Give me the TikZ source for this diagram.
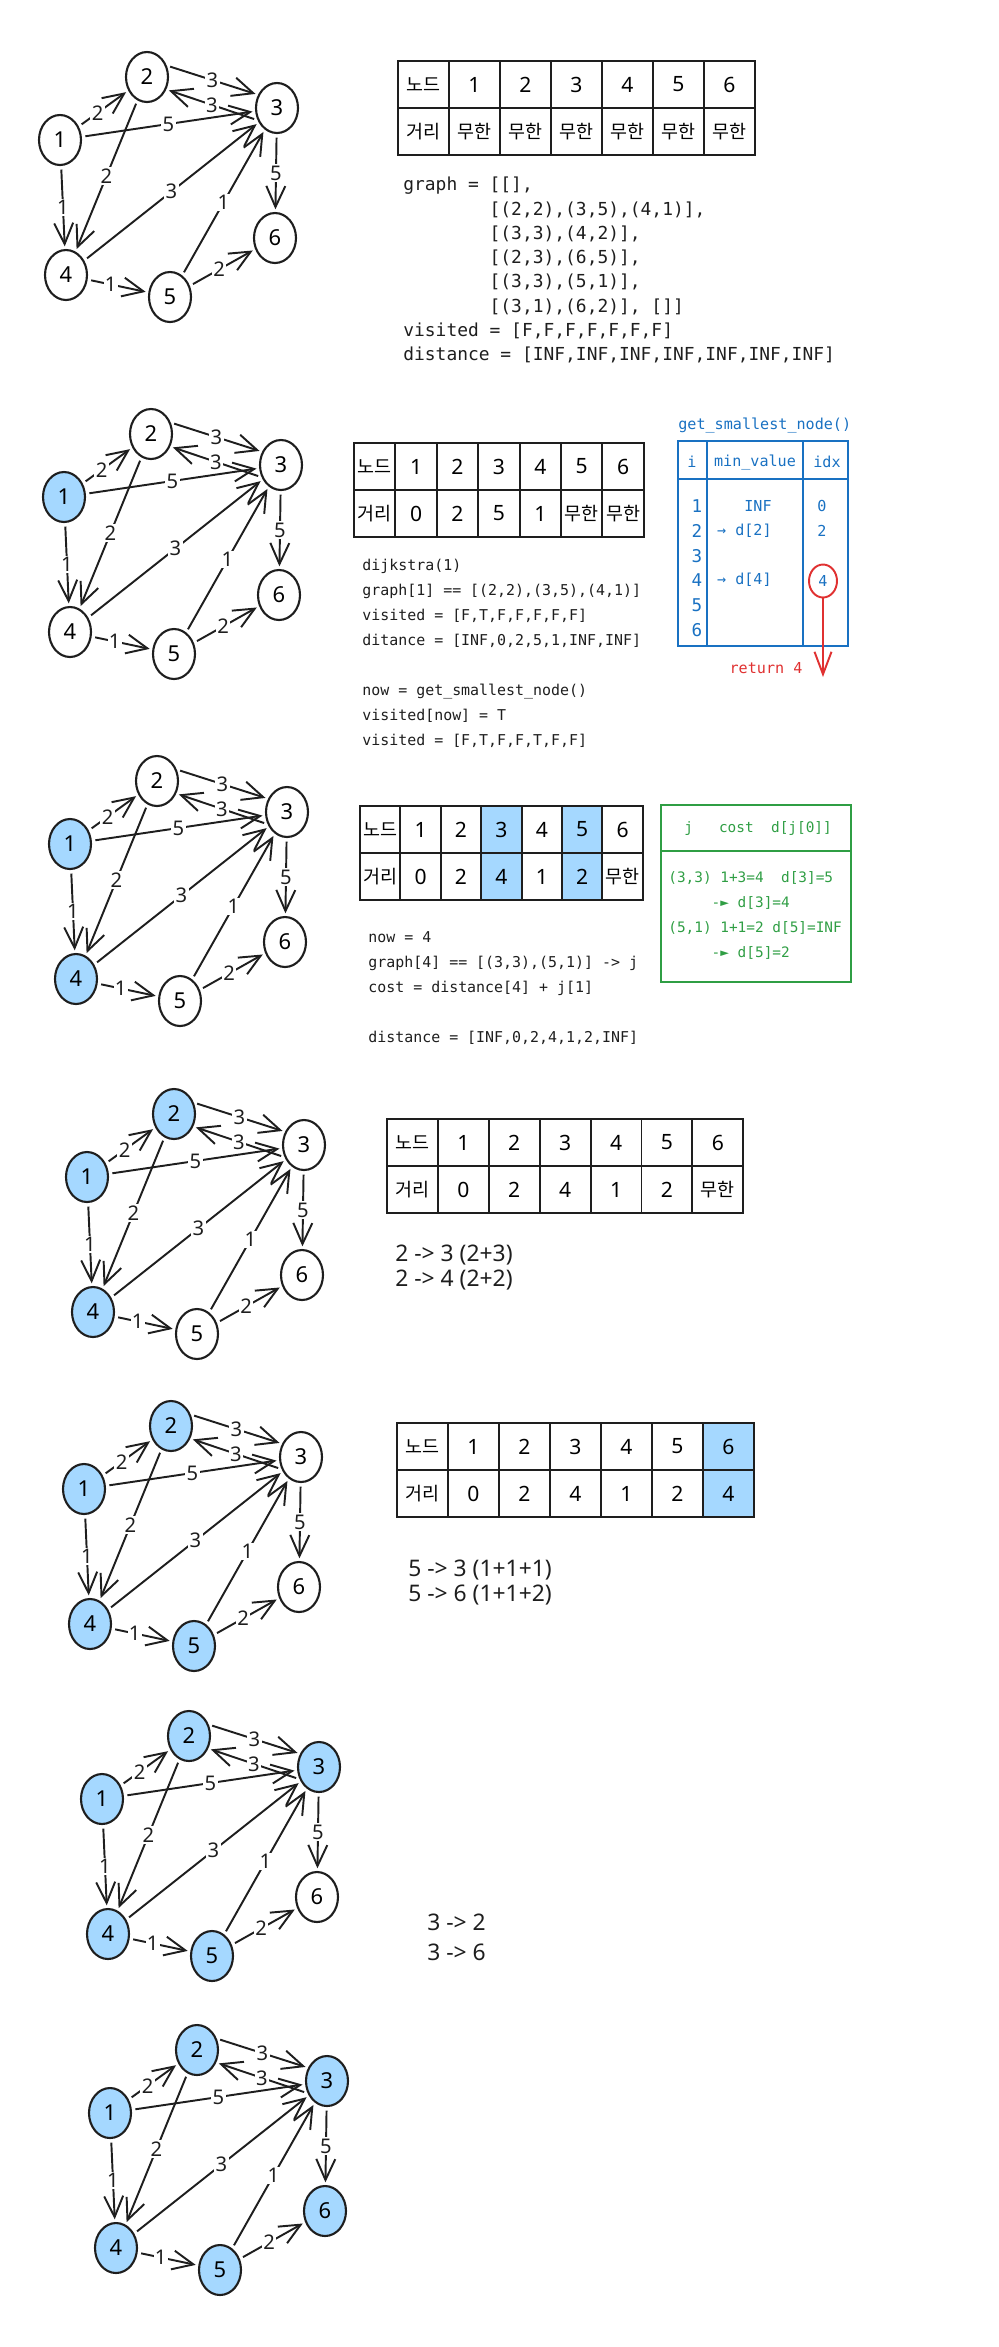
\documentclass[tikz,border=0pt]{standalone}
\usepackage{fontspec}
\setmainfont{Noto Sans}
\setmonofont{DejaVu Sans Mono}
\newfontfamily\krfont{Noto Sans CJK KR}
\newcommand\ko[1]{{\krfont\fontsize{10.5}{12}\selectfont #1}}
\usetikzlibrary{arrows.meta,shapes.geometric}
\definecolor{dkink}{HTML}{1E1E1E}
\definecolor{visfill}{HTML}{A5D8FF}
\definecolor{dkblue}{HTML}{1971C2}
\definecolor{dkgreen}{HTML}{2F9E44}
\definecolor{dkred}{HTML}{E03131}
\tikzset{
  vtx/.style={ellipse, draw=dkink, line width=1.2pt, minimum width=8.4mm, minimum height=10mm, inner sep=0pt, font=\fontsize{12.5}{14}\selectfont},
  warr/.style={-{Straight Barb[length=4.2mm, width=3.8mm]}, line width=1.1pt, color=dkink, shorten >=1.5pt, shorten <=2pt},
  wlab/.style={fill=white, inner sep=0.8pt, font=\fontsize{11.5}{13}\selectfont, text=dkink},
  cell/.style={draw=dkink, line width=1.1pt, minimum height=9.4mm, inner sep=0pt, font=\fontsize{12}{14}\selectfont},
  codetxt/.style={font=\ttfamily\fontsize{8.5}{14.2}\selectfont, align=left, inner sep=0pt, anchor=north west, text=dkink},
  notetxt/.style={font=\fontsize{13}{15}\selectfont, inner sep=0pt, anchor=west, text=dkink},
  bluebox/.style={draw=dkblue, line width=1.1pt},
  bluetxt/.style={font=\ttfamily\fontsize{8.6}{10}\selectfont, text=dkblue, inner sep=0pt},
  greenbox/.style={draw=dkgreen, line width=1.1pt},
  greentxt/.style={font=\ttfamily\fontsize{8.2}{14.2}\selectfont, text=dkgreen, inner sep=0pt},
  retarr/.style={-{Straight Barb[length=4.5mm, width=3.4mm]}, line width=1.1pt, color=dkred},
}
\begin{document}
\begin{tikzpicture}[x=0.02cm, y=-0.02cm]
  \path[use as bounding box] (0,0) rectangle (999,2347);

  % the same graph, step by step
  \foreach \gx/\gy/\fa/\fb/\fc/\fd/\fe/\ff [count=\g] in {
      60/140/white/white/white/white/white/white,
      64/497/visfill/white/white/white/white/white,
      70/844/visfill/white/white/visfill/white/white,
      87/1177/visfill/visfill/white/visfill/white/white,
      84/1489/visfill/visfill/white/visfill/visfill/white,
      102/1799/visfill/visfill/visfill/visfill/visfill/white,
      110/2113/visfill/visfill/visfill/visfill/visfill/visfill}
  {
    \begin{scope}[shift={(\gx,\gy)}]
      \node[vtx, fill=\fa] (g\g-1) at (0,0) {1};
      \node[vtx, fill=\fb] (g\g-2) at (87,-63) {2};
      \node[vtx, fill=\fc] (g\g-3) at (217,-32) {3};
      \node[vtx, fill=\fd] (g\g-4) at (6,135) {4};
      \node[vtx, fill=\fe] (g\g-5) at (110,157) {5};
      \node[vtx, fill=\ff] (g\g-6) at (215,98) {6};
      \draw[warr] (g\g-1) -- node[wlab, pos=0.38] {2} (g\g-2);
      \draw[warr] (g\g-1) -- node[wlab] {5} (g\g-3);
      \draw[warr] (g\g-1) -- node[wlab] {1} (g\g-4);
      \draw[warr] (g\g-2.30) -- node[wlab] {3} (g\g-3.145);
      \draw[warr] (g\g-3.212) -- node[wlab] {3} (g\g-2.327);
      \draw[warr] (g\g-2) -- node[wlab] {2} (g\g-4);
      \draw[warr] (g\g-4) -- node[wlab] {3} (g\g-3);
      \draw[warr] (g\g-4) -- node[wlab, pos=0.38] {1} (g\g-5);
      \draw[warr] (g\g-5) -- node[wlab] {1} (g\g-3);
      \draw[warr] (g\g-5) -- node[wlab, pos=0.45] {2} (g\g-6);
      \draw[warr] (g\g-3) -- node[wlab] {5} (g\g-6);
    \end{scope}
  }

  % step 0
  \foreach \t/\d/\f [count=\i from 0] in {\ko{노드}/\ko{거리}/white,1/\ko{무한}/white,2/\ko{무한}/white,3/\ko{무한}/white,4/\ko{무한}/white,5/\ko{무한}/white,6/\ko{무한}/white} {
    \node[cell, minimum width=1.02cm, fill=\f] (ta-t\i) at ({398+51*(\i+0.5)},84.5) {\t};
    \node[cell, minimum width=1.02cm, fill=\f] (ta-d\i) at ({398+51*(\i+0.5)},131.5) {\d};
  }
  \node[codetxt, font=\ttfamily\fontsize{10.2}{13.8}\selectfont] (code-a) at (403,177) {graph = [[],\\
    \hphantom{graph = }[(2,2),(3,5),(4,1)],\\
    \hphantom{graph = }[(3,3),(4,2)],\\
    \hphantom{graph = }[(2,3),(6,5)],\\
    \hphantom{graph = }[(3,3),(5,1)],\\
    \hphantom{graph = }[(3,1),(6,2)], []]\\
    visited = [F,F,F,F,F,F,F]\\
    distance = [INF,INF,INF,INF,INF,INF,INF]};

  % step 1
  \foreach \t/\d/\f [count=\i from 0] in {\ko{노드}/\ko{거리}/white,1/0/white,2/2/white,3/5/white,4/1/white,5/\ko{무한}/white,6/\ko{무한}/white} {
    \node[cell, minimum width=0.828cm, fill=\f] (tb-t\i) at ({354+41.4*(\i+0.5)},466.5) {\t};
    \node[cell, minimum width=0.828cm, fill=\f] (tb-d\i) at ({354+41.4*(\i+0.5)},513.5) {\d};
  }
  \node[codetxt] (code-b) at (362,559) {dijkstra(1)\\
    graph[1] == [(2,2),(3,5),(4,1)]\\
    visited = [F,T,F,F,F,F,F]\\
    ditance = [INF,0,2,5,1,INF,INF]\\[14.2pt]
    now = get\_smallest\_node()\\
    visited[now] = T\\
    visited = [F,T,F,F,T,F,F]};

  \node[bluetxt, anchor=west] (gsn-title) at (678,425) {get\_smallest\_node()};
  \draw[bluebox] (678,441) rectangle (848,646);
  \draw[bluebox] (678,479) -- (848,479);
  \draw[bluebox] (707,441) -- (707,646);
  \draw[bluebox] (803,441) -- (803,646);
  \node[bluetxt] (gsn-i) at (692,462) {i};
  \node[bluetxt] (gsn-mv) at (755,462) {min\_value};
  \node[bluetxt] (gsn-idx) at (827,462) {idx};
  \foreach \r in {1,...,6}
    \node[bluetxt, font=\ttfamily\fontsize{10}{12}\selectfont] (gsn-r\r) at (697,{506+24.8*(\r-1)}) {\r};
  \node[bluetxt, anchor=east] (gsn-m1) at (772,506) {INF};
  \node[bluetxt, anchor=east] (gsn-m2) at (772,531) {→ d[2]};
  \node[bluetxt, anchor=east] (gsn-m4) at (772,580) {→ d[4]};
  \node[bluetxt] (gsn-x1) at (822,506) {0};
  \node[bluetxt] (gsn-x2) at (822,531) {2};
  \node[bluetxt, ellipse, draw=dkred, line width=1.1pt, minimum width=5.6mm, minimum height=6.6mm] (gsn-ret) at (823,581) {4};
  \coordinate (retend) at (823,677);
  \draw[retarr] (gsn-ret) -- (retend);
  \node[bluetxt, text=dkred] (rettxt) at (766,668) {return 4};

  % step 2
  \foreach \t/\d/\f [count=\i from 0] in {\ko{노드}/\ko{거리}/white,1/0/white,2/2/white,3/4/visfill,4/1/white,5/2/visfill,6/\ko{무한}/white} {
    \node[cell, minimum width=0.808cm, fill=\f] (tc-t\i) at ({360+40.4*(\i+0.5)},829.5) {\t};
    \node[cell, minimum width=0.808cm, fill=\f] (tc-d\i) at ({360+40.4*(\i+0.5)},876.5) {\d};
  }
  \node[codetxt] (code-c) at (368,931) {now = 4\\
    graph[4] == [(3,3),(5,1)] -> j\\
    cost = distance[4] + j[1]\\[14.2pt]
    distance = [INF,0,2,4,1,2,INF]};

  \draw[greenbox] (661,805) rectangle (851,982);
  \draw[greenbox] (661,851) -- (851,851);
  \node[greentxt, anchor=west] (upd-head) at (684,829) {j\ \ \ cost\ \ d[j[0]]};
  \node[greentxt, align=left, anchor=north west] (upd-body) at (668,871) {(3,3) 1+3=4\ \ d[3]=5\\
    \hphantom{(3,3)}-► d[3]=4\\
    (5,1) 1+1=2 d[5]=INF\\
    \hphantom{(3,3)}-► d[5]=2};

  % step 3
  \foreach \t/\d/\f [count=\i from 0] in {\ko{노드}/\ko{거리}/white,1/0/white,2/2/white,3/4/white,4/1/white,5/2/white,6/\ko{무한}/white} {
    \node[cell, minimum width=1.018cm, fill=\f] (td-t\i) at ({387+50.9*(\i+0.5)},1142.5) {\t};
    \node[cell, minimum width=1.018cm, fill=\f] (td-d\i) at ({387+50.9*(\i+0.5)},1189.5) {\d};
  }
  \node[notetxt] (note-d1) at (395,1255) {2 -> 3 (2+3)};
  \node[notetxt] (note-d2) at (395,1280) {2 -> 4 (2+2)};

  % step 4
  \foreach \t/\d/\f [count=\i from 0] in {\ko{노드}/\ko{거리}/white,1/0/white,2/2/white,3/4/white,4/1/white,5/2/white,6/4/visfill} {
    \node[cell, minimum width=1.02cm, fill=\f] (te-t\i) at ({397+51*(\i+0.5)},1446.5) {\t};
    \node[cell, minimum width=1.02cm, fill=\f] (te-d\i) at ({397+51*(\i+0.5)},1493.5) {\d};
  }
  \node[notetxt] (note-e1) at (408,1570) {5 -> 3 (1+1+1)};
  \node[notetxt] (note-e2) at (408,1595) {5 -> 6 (1+1+2)};

  % step 5
  \node[notetxt] (note-f1) at (427,1922) {3 -> 2};
  \node[notetxt] (note-f2) at (427,1952) {3 -> 6};
\end{tikzpicture}
\end{document}
